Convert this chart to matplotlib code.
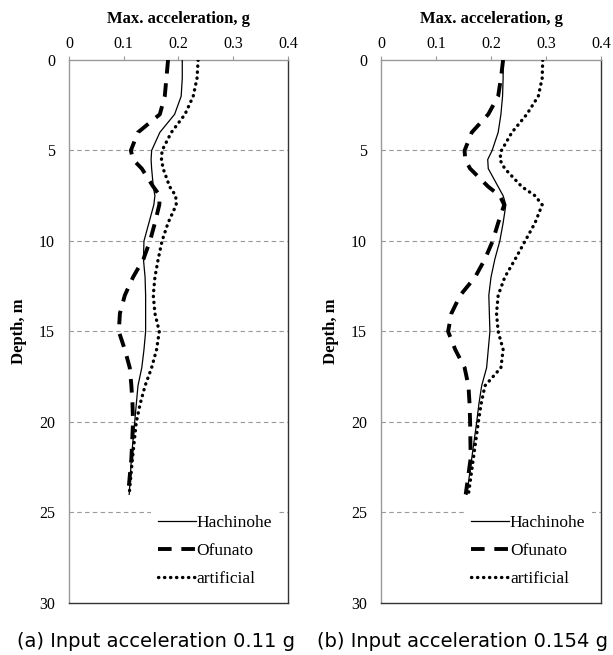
import numpy as np
import matplotlib.pyplot as plt

# ── Data ──────────────────────────────────────────────────────────────────────
depth = [0, 1, 2, 3, 4, 5, 5.5, 6, 7, 7.5, 8, 9, 10, 11, 12, 13, 14,
         15, 16, 17, 18, 19, 20, 22, 24]

# (a) input 0.11 g
hach_a = [0.207, 0.207, 0.205, 0.193, 0.166, 0.151, 0.150, 0.151, 0.154, 0.157, 0.155,
          0.146, 0.137, 0.136, 0.139, 0.140, 0.140, 0.140, 0.137, 0.133, 0.126, 0.123,
          0.120, 0.114, 0.110]
ofun_a = [0.181, 0.178, 0.175, 0.166, 0.126, 0.113, 0.117, 0.133, 0.154, 0.166, 0.165,
          0.157, 0.148, 0.136, 0.117, 0.102, 0.093, 0.091, 0.102, 0.111, 0.114, 0.116,
          0.117, 0.114, 0.108]
arti_a = [0.236, 0.234, 0.227, 0.212, 0.187, 0.170, 0.169, 0.172, 0.184, 0.195, 0.196,
          0.181, 0.170, 0.163, 0.157, 0.154, 0.157, 0.165, 0.160, 0.151, 0.139, 0.130,
          0.123, 0.116, 0.110]

# (b) input 0.154 g
hach_b = [0.222, 0.222, 0.221, 0.218, 0.213, 0.202, 0.194, 0.195, 0.213, 0.222, 0.227,
          0.222, 0.216, 0.207, 0.200, 0.196, 0.197, 0.198, 0.195, 0.192, 0.183, 0.178,
          0.174, 0.165, 0.156]
ofun_b = [0.222, 0.218, 0.213, 0.195, 0.165, 0.152, 0.153, 0.162, 0.195, 0.216, 0.224,
          0.213, 0.203, 0.189, 0.171, 0.144, 0.128, 0.122, 0.135, 0.152, 0.159, 0.161,
          0.162, 0.163, 0.154]
arti_b = [0.294, 0.293, 0.286, 0.265, 0.238, 0.219, 0.216, 0.225, 0.256, 0.280, 0.293,
          0.280, 0.262, 0.244, 0.225, 0.213, 0.210, 0.213, 0.222, 0.218, 0.189, 0.182,
          0.177, 0.168, 0.159]

captions = ["(a) Input acceleration 0.11 g", "(b) Input acceleration 0.154 g"]
series_names = ["Hachinohe", "Ofunato", "artificial"]
xticks = [0, 0.1, 0.2, 0.3, 0.4]
yticks = [0, 5, 10, 15, 20, 25, 30]

# ── Style ─────────────────────────────────────────────────────────────────────
plt.rcParams.update({
    "font.family": "Liberation Serif",
    "font.size": 11.5,
})

fig = plt.figure(figsize=(6.13, 6.55), dpi=100)
ax_a = fig.add_axes([0.1126, 0.0794, 0.357, 0.829])
ax_b = fig.add_axes([0.6215, 0.0794, 0.359, 0.829])

panels = [(ax_a, hach_a, ofun_a, arti_a), (ax_b, hach_b, ofun_b, arti_b)]
caption_x = [0.255, 0.754]

for i, (ax, h, o, a) in enumerate(panels):
    for y in yticks[1:-1]:
        ax.axhline(y, color="#999999", linestyle=(0, (4, 3)), linewidth=0.8, zorder=1)
    ax.plot(h, depth, color="black", linewidth=0.9, label=series_names[0], zorder=3)
    ax.plot(o, depth, color="black", linewidth=2.8, linestyle=(0, (3.5, 2.5)),
            label=series_names[1], zorder=3)
    ax.plot(a, depth, color="black", linewidth=2.4, linestyle=(0, (0.1, 1.7)),
            dash_capstyle="round", label=series_names[2], zorder=3)

    ax.set_xlim(0, 0.4)
    ax.set_ylim(30, 0)
    ax.set_xticks(xticks)
    ax.set_xticklabels(["0", "0.1", "0.2", "0.3", "0.4"])
    ax.set_yticks(yticks)
    ax.xaxis.tick_top()
    ax.xaxis.set_label_position("top")
    ax.tick_params(axis="x", direction="out", length=3, color="#999999", pad=3)
    ax.tick_params(axis="y", length=0, pad=10)
    ax.set_xlabel("Max. acceleration, g", fontweight="bold", fontsize=12, labelpad=9)
    ax.set_ylabel("Depth, m", fontweight="bold", fontsize=12, labelpad=9)

    ax.spines["top"].set_color("#999999")
    ax.spines["left"].set_color("#999999")
    ax.spines["right"].set_color("#333333")
    ax.spines["bottom"].set_color("#333333")
    for s in ax.spines.values():
        s.set_linewidth(1.0)

    leg = ax.legend(loc="lower right", frameon=True, fontsize=12.5,
                    handlelength=2.2, handletextpad=0.05,
                    labelspacing=0.7, borderaxespad=0.5, borderpad=0.4)
    leg.get_frame().set_edgecolor("none")
    leg.get_frame().set_facecolor("white")
    leg.get_frame().set_alpha(1.0)
    leg.set_zorder(2)

    fig.text(caption_x[i], 0.02, captions[i], ha="center", va="center",
             fontsize=14, family="DejaVu Sans")

fig.savefig("out.png", dpi=100)
